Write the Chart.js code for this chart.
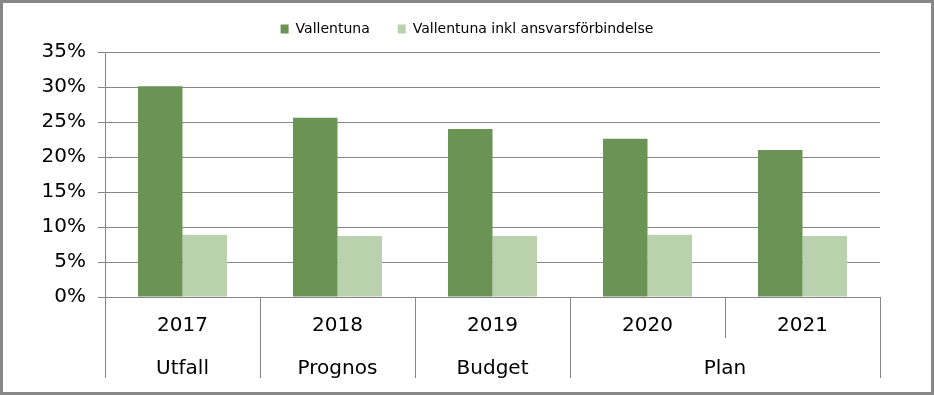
<!DOCTYPE html>
<html>
<head>
<meta charset="utf-8">
<script src="https://cdn.jsdelivr.net/npm/chart.js@4"></script>
<style>
    html, body { margin: 0; padding: 0; background: #fff; }
    #wrap { position: relative; width: 934px; height: 395px; }
</style>
</head>
<body>
<div id="wrap"><canvas id="c" width="934" height="395"></canvas></div>
<script>
    'use strict';

    // data
    var years = ['2017', '2018', '2019', '2020', '2021'];
    var vallentuna = [30.1, 25.6, 24.0, 22.6, 21.0];
    var vallentunaInkl = [8.9, 8.7, 8.7, 8.9, 8.7];
    var groupNames = ['Utfall', 'Prognos', 'Budget', 'Plan'];
    var groupStart = [0, 1, 2, 3];
    var groupEnd = [0, 1, 2, 4];

    var FONT = 'DejaVu Sans, Verdana, sans-serif';
    var GRID = '#868686';

    // draws the second label row, the separators and the outer frame
    var groupAxis = {
        id: 'groupAxis',
        afterDraw: function (chart) {
            var ctx = chart.ctx;
            var x = chart.scales.x;
            var area = chart.chartArea;
            var half = (x.getPixelForValue(1) - x.getPixelForValue(0)) / 2;
            var isGroupEdge = function (i) {
                return i === 0 || groupStart.indexOf(i) >= 0 || i === years.length;
            };

            ctx.save();
            ctx.strokeStyle = GRID;
            ctx.lineWidth = 1;
            for (var i = 0; i <= years.length; i++) {
                var px = Math.round(x.getPixelForValue(i) - half) + 0.5;
                ctx.beginPath();
                ctx.moveTo(px, area.bottom);
                ctx.lineTo(px, isGroupEdge(i) ? area.bottom + 81 : area.bottom + 41);
                ctx.stroke();
            }

            ctx.fillStyle = '#000';
            ctx.font = '20px ' + FONT;
            ctx.textAlign = 'center';
            ctx.textBaseline = 'alphabetic';
            groupNames.forEach(function (name, g) {
                var cx = (x.getPixelForValue(groupStart[g]) + x.getPixelForValue(groupEnd[g])) / 2;
                ctx.fillText(name, cx, area.bottom + 77);
            });

            ctx.strokeStyle = '#878787';
            ctx.lineWidth = 3;
            ctx.strokeRect(1.5, 1.5, chart.width - 3, chart.height - 3);
            ctx.restore();
        }
    };

    var legendHeight = {
        id: 'legendHeight',
        beforeInit: function (chart) {
            var fit = chart.legend.fit;
            chart.legend.fit = function () {
                fit.bind(chart.legend)();
                this.height = 58;
            };
        }
    };

    new Chart(document.getElementById('c'), {
        type: 'bar',
        data: {
            labels: years,
            datasets: [{
                label: 'Vallentuna',
                data: vallentuna,
                backgroundColor: '#6a9354'
            }, {
                label: 'Vallentuna inkl ansvarsförbindelse',
                data: vallentunaInkl,
                backgroundColor: '#b9d1ad'
            }]
        },
        options: {
            responsive: false,
            animation: false,
            devicePixelRatio: 1,
            layout: { padding: { top: -6, right: 0, left: 0, bottom: 0 } },
            datasets: {
                bar: { categoryPercentage: 0.574, barPercentage: 1 }
            },
            plugins: {
                legend: {
                    position: 'top',
                    labels: {
                        boxWidth: 8,
                        boxHeight: 9,
                        padding: 28,
                        color: '#000',
                        font: { family: FONT, size: 14 }
                    }
                },
                tooltip: { enabled: false }
            },
            scales: {
                x: {
                    grid: { display: false, drawTicks: false },
                    border: { display: true, color: GRID, width: 1 },
                    ticks: {
                        color: '#000',
                        padding: 17,
                        font: { family: FONT, size: 20 }
                    },
                    afterFit: function (scale) { scale.height = 98; }
                },
                y: {
                    min: 0,
                    max: 35,
                    grid: { color: GRID, tickLength: 7, lineWidth: 1 },
                    border: { display: true, color: GRID, width: 1 },
                    ticks: {
                        stepSize: 5,
                        color: '#000',
                        padding: 12,
                        font: { family: FONT, size: 20 },
                        callback: function (v) { return v + '%'; }
                    },
                    afterFit: function (scale) { scale.width = 105; }
                },
                // empty right margin, keeps the legend centred on the whole frame
                spacer: {
                    position: 'right',
                    min: 0,
                    max: 35,
                    grid: { display: false },
                    border: { display: false },
                    ticks: { display: false },
                    afterFit: function (scale) { scale.width = 54; }
                }
            }
        },
        plugins: [legendHeight, groupAxis]
    });
</script>
</body>
</html>
